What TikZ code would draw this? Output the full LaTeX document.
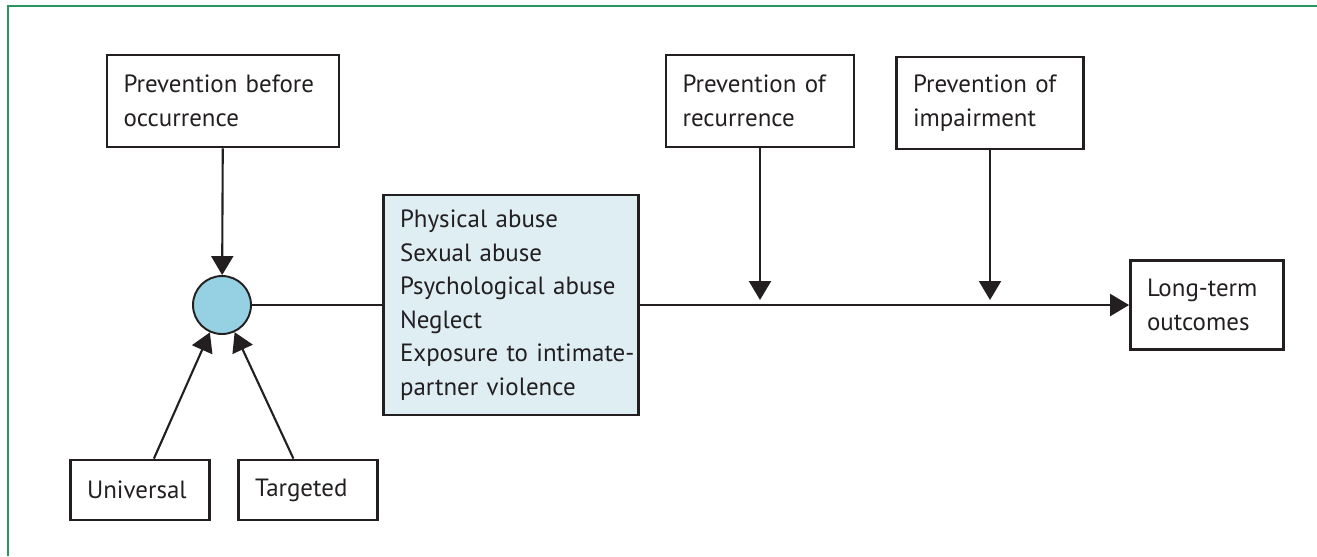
\documentclass[tikz,border=0pt]{standalone}
\usepackage{fontspec}
\setmainfont{PT Sans}
\usetikzlibrary{arrows.meta}
\definecolor{inkgrey}{RGB}{35,31,32}
\definecolor{framegreen}{RGB}{40,150,95}
\definecolor{dotblue}{RGB}{150,208,227}
\definecolor{boxblue}{RGB}{222,238,243}
\begin{document}
\begin{tikzpicture}[x=0.02cm,y=-0.02cm,
  font=\fontsize{14.2}{19.1}\selectfont,
  box/.style={draw=inkgrey,line width=1.6pt,text=inkgrey,align=left,inner xsep=0.33cm,inner ysep=0pt},
  link/.style={draw=inkgrey,line width=1.2pt},
  tip/.style={link,-{Triangle[length=0.38cm,width=0.44cm]}}]
\useasboundingbox (0,0) rectangle (1317,556);

\draw[framegreen,line width=1.1pt] (8,556) -- (8,6) -- (1317,6);

\node[box,text width=3.98cm,minimum height=1.84cm] (before) at (223,101) {Prevention before\\occurrence};
\node[box,text width=3.10cm,minimum height=1.84cm] (recur) at (760,101) {Prevention of\\recurrence};
\node[box,text width=3.08cm,minimum height=1.84cm] (impair) at (990,103) {Prevention of\\impairment};
\node[box,fill=boxblue,text width=4.44cm,minimum height=4.40cm] (abuse) at (511,305)
  {Physical abuse\\Sexual abuse\\Psychological abuse\\Neglect\\\mbox{Exposure to intimate-}\\partner violence};
\node[box,text width=2.40cm,minimum height=1.78cm] (outcomes) at (1207,305) {Long-term\\outcomes};
\node[box,text width=2.12cm,minimum height=1.20cm] (universal) at (140,490) {Universal};
\node[box,text width=2.12cm,minimum height=1.20cm] (targeted) at (308,490) {Targeted};
\node[circle,draw=inkgrey,line width=1.1pt,fill=dotblue,minimum size=1.16cm,inner sep=0pt] (dot) at (222,305) {};

\coordinate (recurhit) at (recur.south |- 0,300);
\coordinate (impairhit) at (impair.south |- 0,300);

\draw[tip] (before) -- (dot);
\draw[tip] (universal) -- (dot);
\draw[tip] (targeted) -- (dot);
\draw[link] (dot) -- (abuse);
\draw[tip] (abuse) -- (outcomes);
\draw[tip] (recur) -- (recurhit);
\draw[tip] (impair) -- (impairhit);
\end{tikzpicture}
\end{document}
